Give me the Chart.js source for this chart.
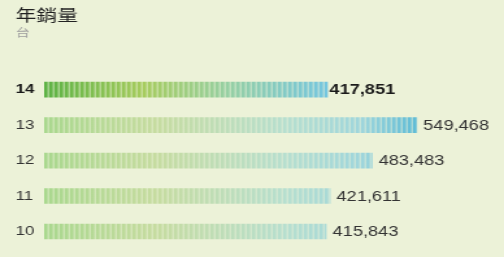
<!DOCTYPE html>
<html>
<head>
<meta charset="utf-8">
<script src="https://cdn.jsdelivr.net/npm/chart.js@4"></script>
<style>
  html, body { margin: 0; padding: 0; background: #ecf2d8; overflow: hidden; }
  /* the reference is drawn wide: render narrower and stretch horizontally */
  #wrap { width: 388px; height: 257px; transform: scaleX(1.299); transform-origin: 0 0; }
</style>
</head>
<body>
<div id="wrap"><canvas id="sales" width="388" height="257"></canvas></div>
<script>
// years (two digits) and annual sales in units
const years = ['14', '13', '12', '11', '10'];
const sales = [417851, 549468, 483483, 421611, 415843];
const titleText = '年銷量';
const unitText = '台';

const FONT = '"Liberation Sans", Arial, sans-serif';
const CJK = '"Noto Sans CJK TC", ' + FONT;

// striped gradient fill, built once per layout
const patternCache = {};
function stripedFill(chart, highlight) {
    const area = chart.chartArea;
    if (!area) return highlight ? '#8cc870' : '#c0dca8';
    const key = (highlight ? 'h' : 'n') + chart.width + '_' + area.left + '_' + area.right;
    if (patternCache[key]) return patternCache[key];

    const x = chart.scales.x;
    const c = document.createElement('canvas');
    c.width = chart.width;
    c.height = 4;
    const g = c.getContext('2d');
    let grad;
    if (highlight) {
        grad = g.createLinearGradient(area.left, 0, x.getPixelForValue(sales[0]), 0);
        grad.addColorStop(0, '#5cb245');
        grad.addColorStop(0.35, '#a6cc5e');
        grad.addColorStop(0.65, '#96d0a4');
        grad.addColorStop(1, '#74c6e0');
    } else {
        grad = g.createLinearGradient(area.left, 0, x.getPixelForValue(Math.max(...sales)), 0);
        grad.addColorStop(0, '#a9d88e');
        grad.addColorStop(0.3, '#c6dca0');
        grad.addColorStop(0.65, '#b6dfd0');
        grad.addColorStop(0.85, '#9fd6dc');
        grad.addColorStop(1, '#5fbcd6');
    }
    g.fillStyle = grad;
    g.fillRect(0, 0, c.width, c.height);
    // lighter gaps between stripes
    g.fillStyle = 'rgba(236,242,216,0.5)';
    for (let px = area.left + 2.5; px < c.width; px += 4) {
        g.fillRect(px, 0, 1.5, c.height);
    }
    patternCache[key] = g.createPattern(c, 'repeat');
    return patternCache[key];
}

// value labels at the end of each bar
const valueLabels = {
    id: 'valueLabels',
    afterDatasetsDraw(chart) {
        const ctx = chart.ctx;
        const meta = chart.getDatasetMeta(0);
        ctx.save();
        ctx.textBaseline = 'middle';
        ctx.textAlign = 'left';
        meta.data.forEach((bar, i) => {
            ctx.font = (i === 0 ? 'bold ' : '') + '14px ' + FONT;
            ctx.fillStyle = i === 0 ? '#1a1a1a' : '#333333';
            ctx.fillText(sales[i].toLocaleString('en-US'), bar.x + (i === 0 ? 1.5 : 5), bar.y + 1);
        });
        ctx.restore();
    }
};

new Chart(document.getElementById('sales'), {
    type: 'bar',
    data: {
        labels: years,
        datasets: [{
            data: sales,
            barThickness: 15,
            borderWidth: 0,
            backgroundColor: ctx => stripedFill(ctx.chart, ctx.dataIndex === 0)
        }]
    },
    options: {
        indexAxis: 'y',
        responsive: false,
        animation: false,
        layout: { padding: { left: 12, right: 14.7, top: 0, bottom: 0 } },
        scales: {
            x: {
                display: false,
                min: 0,
                max: 650000
            },
            y: {
                grid: { display: false },
                border: { display: false },
                ticks: {
                    crossAlign: 'far',
                    padding: 0,
                    color: ctx => ctx.index === 0 ? '#1a1a1a' : '#333333',
                    font: ctx => ({
                        family: FONT,
                        size: 13,
                        weight: ctx.index === 0 ? 'bold' : 'normal'
                    })
                },
                afterFit(scale) { scale.width = 22; }
            }
        },
        plugins: {
            legend: { display: false },
            tooltip: { enabled: false },
            title: {
                display: true,
                text: titleText,
                align: 'start',
                color: '#222222',
                font: { family: CJK, size: 16, weight: 'normal', lineHeight: 1.2 },
                padding: { top: 5, bottom: 0 }
            },
            subtitle: {
                display: true,
                text: unitText,
                align: 'start',
                color: '#a0a0a0',
                font: { family: CJK, size: 11, lineHeight: 1.2 },
                padding: { top: 2, bottom: 32.5 }
            }
        }
    },
    plugins: [valueLabels]
});
</script>
</body>
</html>
